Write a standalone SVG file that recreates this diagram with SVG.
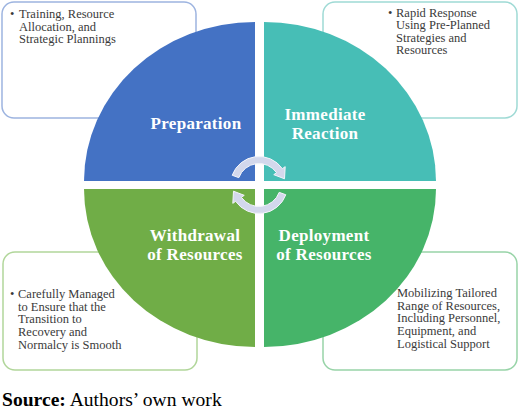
<svg xmlns="http://www.w3.org/2000/svg" width="520" height="411" viewBox="0 0 520 411">
<style>
.box{fill:#fff;stroke-width:1.5}
.bt{font-family:"Liberation Serif","Times New Roman",serif;font-size:12.5px;fill:#3a3a3a}
.ql{font-family:"Liberation Serif","Times New Roman",serif;font-size:17px;font-weight:bold;fill:#fff;text-anchor:middle;letter-spacing:0.3px}
.arr{fill:#D3D8EC;stroke:#F4F5FB;stroke-width:1}
</style>
<rect width="520" height="411" fill="#fff"/>
<g id="box-preparation">
<rect class="box" x="2" y="2" width="194" height="116" rx="12" stroke="#9DB4E0"/>
<text class="bt" x="10" y="18">•</text>
<text class="bt"><tspan x="19" y="18">Training, Resource</tspan><tspan x="19" y="30.7">Allocation, and</tspan><tspan x="19" y="43.4">Strategic Plannings</tspan></text>
</g>
<g id="box-reaction">
<rect class="box" x="323" y="2" width="194" height="116" rx="12" stroke="#9FDAD5"/>
<text class="bt" x="388" y="16.5">•</text>
<text class="bt"><tspan x="396" y="16.5">Rapid Response</tspan><tspan x="396" y="29.1">Using Pre-Planned</tspan><tspan x="396" y="41.7">Strategies and</tspan><tspan x="396" y="54.3">Resources</tspan></text>
</g>
<g id="box-withdrawal">
<rect class="box" x="3" y="252" width="194" height="118" rx="12" stroke="#B1D69A"/>
<text class="bt" x="10" y="298">•</text>
<text class="bt"><tspan x="18" y="298">Carefully Managed</tspan><tspan x="18" y="310.7">to Ensure that the</tspan><tspan x="18" y="323.4">Transition to</tspan><tspan x="18" y="336.1">Recovery and</tspan><tspan x="18" y="348.8">Normalcy is Smooth</tspan></text>
</g>
<g id="box-deployment">
<rect class="box" x="323" y="252" width="194" height="118" rx="12" stroke="#98D4A8"/>
<text class="bt"><tspan x="397" y="297">Mobilizing Tailored</tspan><tspan x="397" y="309.7">Range of Resources,</tspan><tspan x="397" y="322.4">Including Personnel,</tspan><tspan x="397" y="335.1">Equipment, and</tspan><tspan x="397" y="347.8">Logistical Support</tspan></text>
</g>
<g id="q-preparation">
<path d="M255,181 L84,181 A171,159 0 0 1 255,22 Z" fill="#4472C4"/>
<text class="ql" x="196" y="129">Preparation</text>
</g>
<g id="q-reaction">
<path d="M264,181 L264,22 A172,159 0 0 1 436,181 Z" fill="#47BEB6"/>
<text class="ql" x="325" y="120">Immediate</text>
<text class="ql" x="325" y="138.5">Reaction</text>
</g>
<g id="q-deployment">
<path d="M264,189 L436,189 A172,158 0 0 1 264,347 Z" fill="#46B469"/>
<text class="ql" x="324" y="241">Deployment</text>
<text class="ql" x="324" y="259.5">of Resources</text>
</g>
<g id="q-withdrawal">
<path d="M255,189 L255,347 A171,158 0 0 1 84,189 Z" fill="#70AD47"/>
<text class="ql" x="195" y="241">Withdrawal</text>
<text class="ql" x="195" y="259.5">of Resources</text>
</g>
<g id="connectors">
<path class="arr" d="M232.2,175.25 A28.5,28.5 0 0 1 282.35,168.65 L285.2,166.65 L284.5,178.8 L273.75,174.67 L276.6,172.67 A21.5,21.5 0 0 0 238.8,177.65 Z"/>
<path class="arr" d="M285.8,194.75 A28.5,28.5 0 0 1 235.65,201.35 L232.8,203.35 L233.5,191.2 L244.25,195.33 L241.4,197.33 A21.5,21.5 0 0 0 279.2,192.35 Z"/>
</g>
<text x="2" y="405.5" font-family="Liberation Serif,'Times New Roman',serif" font-size="19.6" fill="#000"><tspan font-weight="bold">Source:</tspan> Authors’ own work</text>
</svg>
